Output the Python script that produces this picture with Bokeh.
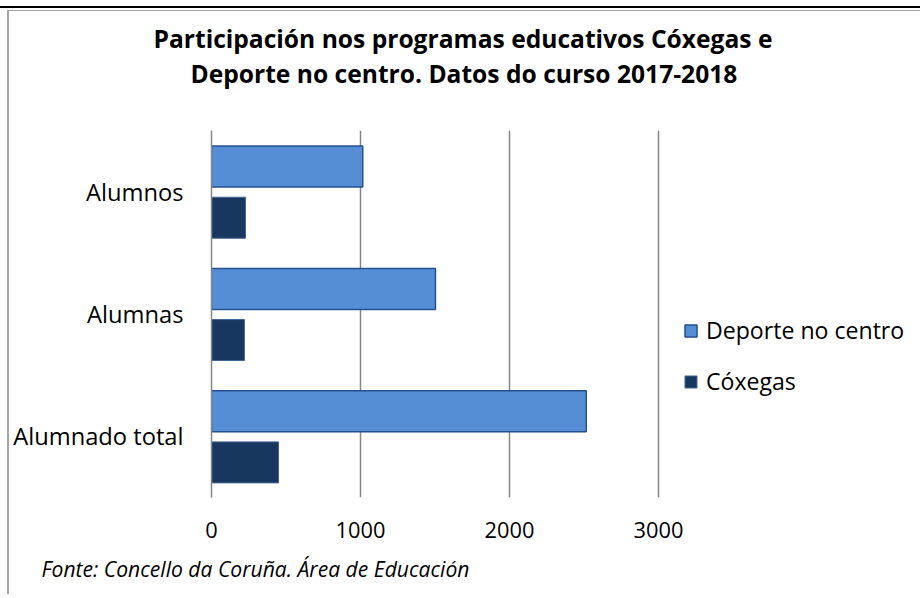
from bokeh.plotting import figure
from bokeh.models import (FactorRange, Range1d, FixedTicker, Legend, LegendItem,
                          Title, ColumnDataSource)
from bokeh.transform import dodge
from bokeh.embed import file_html
from bokeh.resources import INLINE

categories = ["Alumnos", "Alumnas", "Alumnado total"]
deporte = [1015, 1503, 2515]
coxegas = [228, 221, 450]
x_ticks = [0, 1000, 2000, 3000]
series_names = ["Deporte no centro", "Cóxegas"]
title_lines = ["Participación nos programas educativos Cóxegas e",
               "Deporte no centro. Datos do curso 2017-2018"]
source_text = "Fonte: Concello da Coruña. Área de Educación"

FONT = "Open Sans"
W, H = 920, 594
FL, FR, FT, FB = 211, 915, 130, 497        # plot frame edges (px)
AXIS_SPAN_PX = 447                          # pixel length of 0..3000
x_end = x_ticks[-1] * (FR - FL) / AXIS_SPAN_PX

src = ColumnDataSource(dict(cat=categories, deporte=deporte, coxegas=coxegas))

p = figure(width=W, height=H, output_backend="svg", toolbar_location=None,
           y_range=FactorRange(factors=list(reversed(categories)), range_padding=0),
           x_range=Range1d(0, x_end),
           min_border_left=FL, min_border_right=W - FR, min_border_top=FT,
           min_border_bottom=H - FB)
p.styles = {"background": "linear-gradient(#000,#000) 0 6px / 100% 2px no-repeat, "
                          "linear-gradient(#a6a6a6,#a6a6a6) 8px 10px / 100% 1px no-repeat, "
                          "linear-gradient(#a6a6a6,#a6a6a6) 7px 10px / 2px 100% no-repeat, #fff"}

TITLE_SIZE = "24.6px"
# first title line: the figure's own title (outermost)
p.title.text = title_lines[0]
p.title.text_font = FONT
p.title.text_font_size = TITLE_SIZE
p.title.text_font_style = "bold"
p.title.text_color = "black"
p.title.align = "left"
p.title.offset = 153 - FL
p.title.standoff = 0
# blank spacer closest to the plot area, then the second title line
spacer = Title(text=" ", text_font=FONT, text_font_size=TITLE_SIZE, standoff=6)
p.add_layout(spacer, "above")
t2 = Title(text=title_lines[1], text_font=FONT, text_font_size=TITLE_SIZE,
           text_font_style="bold", text_color="black", align="left",
           offset=190 - FL, standoff=0)
p.add_layout(t2, "above")

r1 = p.hbar(y=dodge("cat", 0.205, range=p.y_range), right="deporte", height=0.335,
            left=0, source=src, fill_color="#558ED5", line_color="#24528F", line_width=1.5)
r2 = p.hbar(y=dodge("cat", -0.213, range=p.y_range), right="coxegas", height=0.335,
            left=0, source=src, fill_color="#17375E", line_color="#3F6494", line_width=1)

p.outline_line_color = None
p.background_fill_color = "white"
p.border_fill_color = None

p.xaxis.ticker = FixedTicker(ticks=x_ticks)
p.xaxis.axis_line_color = None
p.xaxis.major_tick_line_color = None
p.xaxis.minor_tick_line_color = None
p.xaxis.major_label_text_font = FONT
p.xaxis.major_label_text_font_size = "21.8px"
p.xaxis.major_label_text_color = "black"
p.xaxis.major_label_standoff = 18

p.yaxis.axis_line_color = "#868686"
p.yaxis.axis_line_width = 1.5
p.yaxis.major_tick_line_color = None
p.yaxis.minor_tick_line_color = None
p.yaxis.major_label_text_font = FONT
p.yaxis.major_label_text_font_size = "23.7px"
p.yaxis.major_label_text_color = "black"
p.yaxis.major_label_standoff = 22

p.ygrid.grid_line_color = None
p.xgrid.grid_line_color = "#868686"
p.xgrid.grid_line_width = 1.5

legend = Legend(items=[LegendItem(label=series_names[0], renderers=[r1]),
                       LegendItem(label=series_names[1], renderers=[r2])],
                location=(683 - FL, 100), margin=0, padding=0, spacing=19,
                glyph_width=15, glyph_height=15, label_standoff=8,
                label_text_font=FONT, label_text_font_size="23.1px",
                label_text_color="black",
                border_line_color=None, background_fill_alpha=0)
p.add_layout(legend, "center")

foot = Title(text=source_text, text_font=FONT, text_font_size="21.1px",
             text_font_style="italic", text_color="black", align="left",
             offset=43 - FL - 2, standoff=22)
p.add_layout(foot, "below")

open("out.html", "w").write(file_html(p, INLINE))
